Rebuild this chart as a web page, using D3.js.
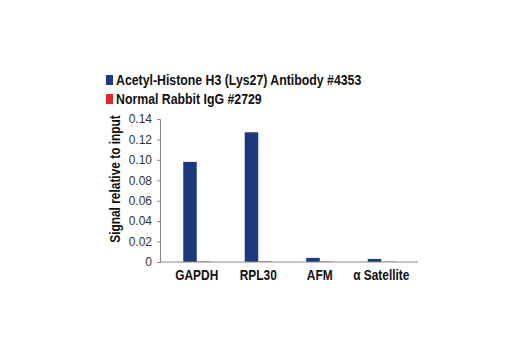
<!DOCTYPE html>
<html>
<head>
<meta charset="utf-8">
<script src="https://cdn.jsdelivr.net/npm/d3@7"></script>
<style>
  body { margin: 0; background: #fff; }
  svg { display: block; }
  .lbl { font-family: "Liberation Sans", Arial, sans-serif; font-weight: bold; font-size: 14px; fill: #111; }
  .tick text { font-family: "Liberation Sans", Arial, sans-serif; font-size: 12px; fill: #333; }
</style>
</head>
<body>
<svg id="canvas" width="520" height="350"></svg>
<script>
var categories = ['GAPDH', 'RPL30', 'AFM', '\u03b1 Satellite'];
var series = ['Acetyl-Histone H3 (Lys27) Antibody #4353', 'Normal Rabbit IgG #2729'];
var antibodyValues = [0.098, 0.127, 0.004, 0.003];
var iggValues = [0.0005, 0.0005, 0.0004, 0.0003];
var yTicks = [0, 0.02, 0.04, 0.06, 0.08, 0.10, 0.12, 0.14];
var yTickLabels = ['0', '0.02', '0.04', '0.06', '0.08', '0.10', '0.12', '0.14'];
var colors = ['#1b3a7e', '#e1262c'];

// condensed look: squeeze the bold text sideways
var squeeze = 0.85;

var svg = d3.select('#canvas');

var y = d3.scaleLinear()
    .domain([0, 0.14])
    .range([262, 119]);

var x0 = d3.scaleBand()
    .domain(categories)
    .range([160, 418])
    .paddingInner(0.561)
    .paddingOuter(0.378);

var x1 = d3.scaleBand()
    .domain(series)
    .range([0, x0.bandwidth()]);

var rows = categories.map(function(c, i) {
    return { cat: c, vals: [antibodyValues[i], iggValues[i]] };
});

// bars
var groups = svg.selectAll('g.grp')
    .data(rows)
    .enter()
    .append('g')
    .attr('class', 'grp')
    .attr('transform', function(d) { return 'translate(' + x0(d.cat) + ',0)'; });

groups.selectAll('rect')
    .data(function(d) { return d.vals.map(function(v, j) { return { s: series[j], v: v, c: colors[j] }; }); })
    .enter()
    .append('rect')
    .attr('x', function(d) { return x1(d.s); })
    .attr('y', function(d) { return y(d.v); })
    .attr('width', x1.bandwidth())
    .attr('height', function(d) { return y(0) - y(d.v); })
    .attr('fill', function(d) { return d.c; });

// y axis
var yAxis = d3.axisLeft(y)
    .tickValues(yTicks)
    .tickFormat(function(d, i) { return yTickLabels[i]; })
    .tickSize(3)
    .tickPadding(5);

var ya = svg.append('g')
    .attr('transform', 'translate(160,0)')
    .call(yAxis);
ya.select('.domain').attr('stroke', '#888');
ya.selectAll('.tick line').attr('stroke', '#888');

// x axis line
svg.append('line')
    .attr('x1', 160).attr('x2', 418)
    .attr('y1', y(0)).attr('y2', y(0))
    .attr('stroke', '#888');

// category labels
svg.selectAll('text.cat')
    .data(categories)
    .enter()
    .append('text')
    .attr('class', 'lbl cat')
    .attr('transform', function(d) {
        return 'translate(' + (x0(d) + x0.bandwidth() / 2) + ',280) scale(' + squeeze + ',1)';
    })
    .attr('text-anchor', 'middle')
    .text(function(d) { return d; });

// y title
svg.append('text')
    .attr('class', 'lbl')
    .attr('transform', 'translate(120,179) rotate(-90) scale(' + squeeze + ',1)')
    .attr('text-anchor', 'middle')
    .text('Signal relative to input');

// legend
var leg = svg.selectAll('g.leg')
    .data(series)
    .enter()
    .append('g')
    .attr('class', 'leg')
    .attr('transform', function(d, i) { return 'translate(106,' + (75 + i * 19) + ')'; });

leg.append('rect')
    .attr('width', 7)
    .attr('height', 10)
    .attr('fill', function(d, i) { return colors[i]; });

leg.append('text')
    .attr('class', 'lbl')
    .attr('transform', 'translate(10,10) scale(0.88,1)')
    .text(function(d) { return d; });
</script>
</body>
</html>
